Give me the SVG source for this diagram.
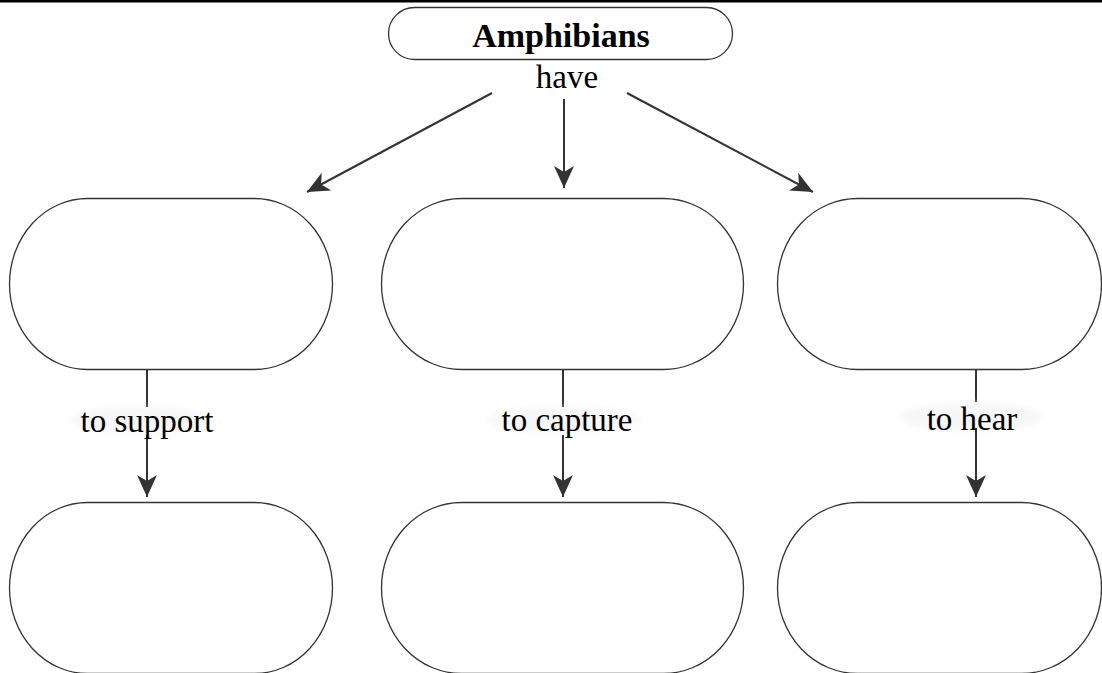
<svg xmlns="http://www.w3.org/2000/svg" width="1102" height="673" viewBox="0 0 1102 673">
  <style>
    .box { fill: #ffffff; stroke: #333333; stroke-width: 1.3; }
    .edge { fill: none; stroke: #333333; stroke-width: 2; }
    .title { font-family: "Liberation Serif", "Times New Roman", serif; font-size: 34px; font-weight: bold; fill: #000000; text-anchor: middle; }
    .label { font-family: "Liberation Serif", "Times New Roman", serif; font-size: 33px; fill: #000000; text-anchor: middle; }
    .halo { fill: #f0f0f0; opacity: 0.55; filter: url(#soft); }
  </style>
  <defs>
    <marker id="arrow" markerUnits="userSpaceOnUse" markerWidth="24" markerHeight="22" refX="22" refY="11" orient="auto">
      <path d="M0,1 L22,11 L0,21 L6,11 Z" fill="#333333"/>
    </marker>
    <filter id="soft" x="-20%" y="-50%" width="140%" height="200%">
      <feGaussianBlur stdDeviation="3"/>
    </filter>
  </defs>

  <!-- page rule -->
  <rect x="0" y="0" width="1102" height="2.5" fill="#000000"/>

  <!-- connectors -->
  <g id="connectors">
    <line class="edge" x1="492" y1="93" x2="307" y2="192" marker-end="url(#arrow)"/>
    <line class="edge" x1="564" y1="99" x2="564" y2="188" marker-end="url(#arrow)"/>
    <line class="edge" x1="627" y1="93" x2="813" y2="192" marker-end="url(#arrow)"/>

    <line class="edge" x1="147" y1="370" x2="147" y2="407"/>
    <ellipse class="halo" cx="140" cy="420" rx="70" ry="13"/>
    <line class="edge" x1="147" y1="435" x2="147" y2="497" marker-end="url(#arrow)"/>

    <line class="edge" x1="563" y1="370" x2="563" y2="407"/>
    <ellipse class="halo" cx="564" cy="420" rx="76" ry="13"/>
    <line class="edge" x1="563" y1="435" x2="563" y2="497" marker-end="url(#arrow)"/>

    <line class="edge" x1="976" y1="370" x2="976" y2="402"/>
    <ellipse class="halo" cx="971" cy="417" rx="71" ry="14"/>
    <line class="edge" x1="976" y1="428" x2="976" y2="497" marker-end="url(#arrow)"/>

    <text class="label" x="567" y="88">have</text>
    <text class="label" x="147" y="432">to support</text>
    <text class="label" x="567" y="431">to capture</text>
    <text class="label" x="972" y="430">to hear</text>
  </g>

  <!-- root concept -->
  <g id="amphibians">
    <rect class="box" x="388.5" y="7.5" width="344" height="52" rx="26" ry="26"/>
    <text class="title" x="561" y="47">Amphibians</text>
  </g>

  <!-- first level -->
  <g id="node-left">
    <rect class="box" x="9.5" y="198.5" width="323" height="171" rx="78" ry="85.5"/>
  </g>
  <g id="node-middle">
    <rect class="box" x="381.5" y="198.5" width="362" height="171" rx="80" ry="85.5"/>
  </g>
  <g id="node-right">
    <rect class="box" x="777.5" y="198.5" width="324" height="171" rx="80" ry="85.5"/>
  </g>

  <!-- second level -->
  <g id="node-left-2">
    <rect class="box" x="9.5" y="502.5" width="323" height="171" rx="78" ry="85.5"/>
  </g>
  <g id="node-middle-2">
    <rect class="box" x="381.5" y="502.5" width="362" height="171" rx="80" ry="85.5"/>
  </g>
  <g id="node-right-2">
    <rect class="box" x="777.5" y="502.5" width="324" height="171" rx="80" ry="85.5"/>
  </g>
</svg>
